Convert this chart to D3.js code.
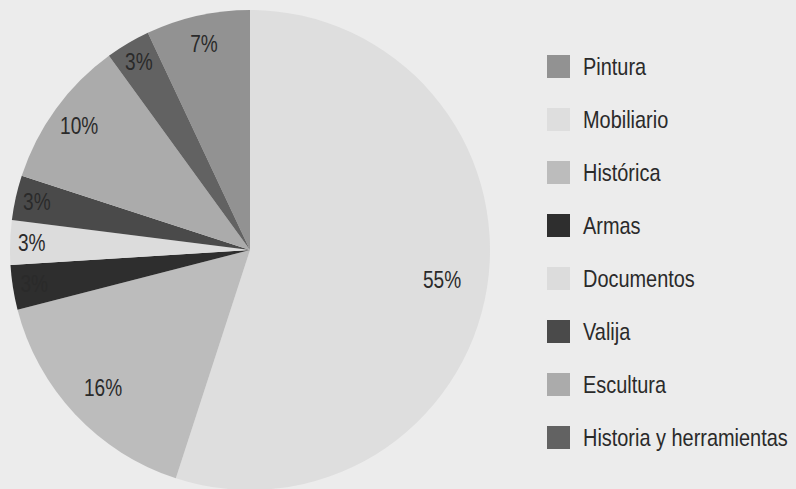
<!DOCTYPE html>
<html>
<head>
<meta charset="utf-8">
<script src="https://cdn.jsdelivr.net/npm/d3@7"></script>
<style>
  html, body { margin: 0; padding: 0; background: #ececec; }
  svg { display: block; }
  text { font-family: "Liberation Sans", Arial, sans-serif; fill: #2a2a2a; }
</style>
</head>
<body>
<svg id="pie" width="796" height="489"></svg>
<script>
// legend order, the pie starts at 12 o'clock with Mobiliario and ends with Pintura
var categories = ["Pintura", "Mobiliario", "Histórica", "Armas", "Documentos", "Valija", "Escultura", "Historia y herramientas"];
var values = [7, 55, 16, 3, 3, 3, 10, 3];
var colors = ["#929292", "#dedede", "#bcbcbc", "#2e2e2e", "#dcdcdc", "#4a4a4a", "#ababab", "#626262"];

var data = categories.map(function(c, i) { return {name: c, value: values[i]}; });

var svg = d3.select("#pie"),
    cx = 250, cy = 250, radius = 240,
    squeeze = 0.83; // condensed look

var total = d3.sum(values);
var offset = -2 * Math.PI * values[0] / total;

var pie = d3.pie()
    .sort(null)
    .value(function(d) { return d.value; })
    .startAngle(offset)
    .endAngle(offset + 2 * Math.PI);

var color = d3.scaleOrdinal().domain(categories).range(colors);

var arc = d3.arc().innerRadius(0).outerRadius(radius);

var g = svg.append("g").attr("transform", "translate(" + cx + "," + cy + ")");

var arcs = pie(data);

g.selectAll("path")
  .data(arcs)
  .enter().append("path")
    .attr("d", arc)
    .attr("fill", function(d) { return color(d.data.name); });

// small slices get their label closer to the rim
function labelRadius(v) {
  if (v <= 3) return radius * 0.91;
  if (v <= 10) return radius * 0.88;
  if (v <= 20) return radius * 0.84;
  return radius * 0.81;
}

g.selectAll(".label")
  .data(arcs)
  .enter().append("text")
    .attr("class", "label")
    .attr("transform", function(d) {
      var r = labelRadius(d.data.value);
      var c = d3.arc().innerRadius(r).outerRadius(r).centroid(d);
      return "translate(" + c + ") scale(" + squeeze + ",1)";
    })
    .attr("text-anchor", "middle")
    .attr("dy", "0.35em")
    .attr("font-size", 23)
    .text(function(d) { return d.data.value + "%"; });

var legend = svg.append("g")
    .attr("transform", "translate(547,55)")
  .selectAll("g")
  .data(categories)
  .enter().append("g")
    .attr("transform", function(d, i) { return "translate(0," + i * 53 + ")"; });

legend.append("rect")
    .attr("width", 23)
    .attr("height", 23)
    .attr("fill", color);

legend.append("text")
    .attr("transform", "translate(36,11.5) scale(" + squeeze + ",1)")
    .attr("dy", "0.35em")
    .attr("font-size", 24)
    .text(function(d) { return d; });
</script>
</body>
</html>
